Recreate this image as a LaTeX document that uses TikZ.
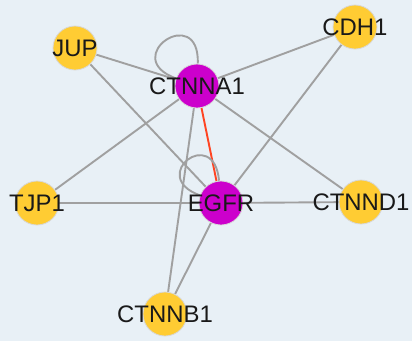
\documentclass[tikz,border=0pt]{standalone}
\usepackage{fontspec}
\setmainfont{Liberation Sans}
\usetikzlibrary{
  arrows.meta,
  positioning,
  backgrounds
}
\usepackage{xcolor}
\definecolor{bgBlue}{HTML}{E8F0F6}
\definecolor{geneYellow}{HTML}{FFCC33}
\definecolor{geneMagenta}{HTML}{CC00CC}
\definecolor{ringGrey}{HTML}{D8D8D8}
\definecolor{edgeGrey}{HTML}{A0A0A0}
\definecolor{edgeRed}{HTML}{FF4422}
\pgfdeclarelayer{edges}
\pgfsetlayers{background,edges,main}
\tikzset{
  gene/.style={
    circle,
    fill=geneYellow,
    draw=ringGrey,
    line width = 0.8bp,
    inner sep = 0pt,
    minimum size = 44bp,
    label={[text=black!90, font=\fontsize{24}{25}\selectfont]center:#1}
  },
  hub/.style={
    gene=#1,
    fill=geneMagenta
  }
}

\begin{document}
\begin{tikzpicture}[
      x=1bp, y=-1bp,
      link/.style={draw=edgeGrey, line width=1.9bp},
      selfloop/.style={link, looseness=6}
      ]

      \begin{pgfonlayer}{background}
        \fill[bgBlue] (0,0) rectangle (412,341);
      \end{pgfonlayer}
      \useasboundingbox (0,0) rectangle (412,341);

      % genes
      \node[gene=JUP]    (jup)    at (75,48)   {};
      \node[gene=CDH1]   (cdh1)   at (355,27)  {};
      \node[hub=CTNNA1]  (ctnna1) at (197,86)  {};
      \node[gene=TJP1]   (tjp1)   at (37,203)  {};
      \node[hub=EGFR]    (egfr)   at (221,203) {};
      \node[gene=CTNND1] (ctnnd1) at (361,202) {};
      \node[gene=CTNNB1] (ctnnb1) at (165,314) {};

      % interactions
      \begin{pgfonlayer}{edges}
        \foreach \a/\b in {jup/ctnna1, jup/egfr, cdh1/ctnna1, cdh1/egfr,
                           ctnna1/tjp1, ctnna1/ctnnd1, ctnna1/ctnnb1,
                           tjp1/egfr, egfr/ctnnd1, egfr/ctnnb1}{
          \draw[link] (\a) -- (\b);
        }
        \draw[link, draw=edgeRed] (ctnna1) -- (egfr);
        \draw[selfloop] (ctnna1) to[out=88, in=160] (ctnna1);
        \draw[selfloop] (egfr) to[out=95, in=160] (egfr);
      \end{pgfonlayer}
    \end{tikzpicture}
\end{document}
